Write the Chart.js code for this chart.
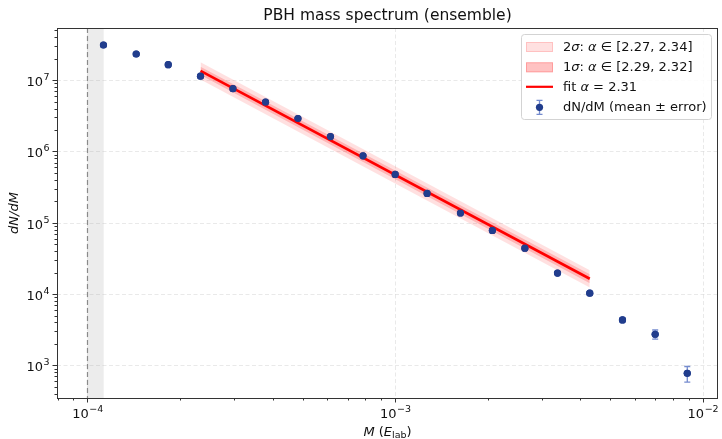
<!DOCTYPE html>
<html lang="en">
<head>
<meta charset="UTF-8">
<title>PBH mass spectrum (ensemble)</title>
<script src="https://cdn.jsdelivr.net/npm/chart.js"></script>
<style>
  body { margin: 0; background: #fff; }
  .wrap { width: 722px; height: 439px; }
</style>
</head>
<body>
<div class="wrap"><canvas id="spec"></canvas></div>
<script>
// binned spectrum
const massBins = [1.127e-4, 1.44e-4, 1.83e-4, 2.33e-4, 2.97e-4, 3.79e-4, 4.83e-4, 6.16e-4, 7.86e-4, 1.0e-3,
                  1.27e-3, 1.63e-3, 2.07e-3, 2.64e-3, 3.37e-3, 4.29e-3, 5.48e-3, 7.0e-3, 8.9e-3];
const dNdM = [3.12e7, 2.33e7, 1.65e7, 1.14e7, 7.6e6, 4.92e6, 2.9e6, 1.62e6, 8.7e5, 4.76e5,
              2.58e5, 1.37e5, 7.8e4, 4.4e4, 1.97e4, 1.03e4, 4.33e3, 2.73e3, 773];
const dNdMErr = [4e5, 3e5, 2e5, 1.5e5, 1e5, 6e4, 4e4, 2.5e4, 1.3e4, 7e3,
                 4e3, 2.5e3, 1.5e3, 1e3, 600, 400, 300, 400, 190];

// power-law fit + bands (straight in log-log, so just the end points)
const fitM = [2.33e-4, 4.29e-3];
const fitLine = [1.35e7, 1.64e4];
const band1Hi = [1.55e7, 1.89e4];
const band1Lo = [1.18e7, 1.42e4];
const band2Hi = [1.78e7, 2.16e4];
const band2Lo = [1.02e7, 1.24e4];

// shaded cut region and its left edge
const cutM = [1e-4, 1.129e-4];

const xRange = [7.96e-5, 1.12e-2];
const yRange = [348, 5.4e7];
const xTickExp = [-4, -3, -2];
const yTickExp = [3, 4, 5, 6, 7];

const titleText = 'PBH mass spectrum (ensemble)';
const legendItems = [
    [{t: '2'}, {t: 'σ', it: true}, {t: ': '}, {t: 'α', it: true}, {t: ' ∈ [2.27, 2.34]'}],
    [{t: '1'}, {t: 'σ', it: true}, {t: ': '}, {t: 'α', it: true}, {t: ' ∈ [2.29, 2.32]'}],
    [{t: 'fit '}, {t: 'α', it: true}, {t: ' = 2.31'}],
    [{t: 'dN/dM (mean ± error)'}]
];

const FONT = "'DejaVu Sans', sans-serif";
const BAND2 = 'rgba(255, 0, 0, 0.12)';
const BAND1 = 'rgba(255, 0, 0, 0.20)';
const PT = '#213d8d';
const ERR = 'rgba(70, 100, 190, 0.75)';

function pts(xs, ys) {
    return xs.map((x, i) => ({x: x, y: ys[i]}));
}

function richText(ctx, parts, x, y, size) {
    let cx = x;
    parts.forEach(p => {
        ctx.font = (p.it ? 'italic ' : '') + size + 'px ' + FONT;
        ctx.fillText(p.t, cx, y);
        cx += ctx.measureText(p.t).width;
    });
    return cx;
}

// "10" with a raised exponent; returns widths so callers can align
function powerLabel(ctx, exp, x, y, align) {
    const base = '10', sup = String(exp).replace('-', '−');
    ctx.font = '13px ' + FONT;
    const wb = ctx.measureText(base).width;
    ctx.font = '9.5px ' + FONT;
    const ws = ctx.measureText(sup).width;
    let x0 = x;
    if (align === 'center') x0 = x - (wb + ws) / 2;
    if (align === 'right') x0 = x - (wb + ws);
    ctx.textAlign = 'left';
    ctx.font = '13px ' + FONT;
    ctx.fillText(base, x0, y);
    ctx.font = '9.5px ' + FONT;
    ctx.fillText(sup, x0 + wb + 0.5, y - 6);
}

// log positions 1..9 x 10^n inside a range
function logTicks(min, max) {
    const out = [];
    for (let e = Math.floor(Math.log10(min)); e <= Math.ceil(Math.log10(max)); e++) {
        for (let k = 1; k <= 9; k++) {
            const v = k * Math.pow(10, e);
            if (v >= min && v <= max) out.push({v: v, major: k === 1});
        }
    }
    return out;
}

const decorPlugin = {
    id: 'decor',
    beforeDatasetsDraw(chart) {
        const ctx = chart.ctx, a = chart.chartArea;
        const xs = chart.scales.x, ys = chart.scales.y;
        ctx.save();
        ctx.beginPath();
        ctx.rect(a.left, a.top, a.right - a.left, a.bottom - a.top);
        ctx.clip();

        // grid
        ctx.strokeStyle = 'rgba(0, 0, 0, 0.11)';
        ctx.lineWidth = 0.8;
        ctx.setLineDash([4, 2.5]);
        xTickExp.forEach(e => {
            const px = Math.round(xs.getPixelForValue(Math.pow(10, e))) + 0.5;
            ctx.beginPath(); ctx.moveTo(px, a.top); ctx.lineTo(px, a.bottom); ctx.stroke();
        });
        yTickExp.forEach(e => {
            const py = Math.round(ys.getPixelForValue(Math.pow(10, e))) + 0.5;
            ctx.beginPath(); ctx.moveTo(a.left, py); ctx.lineTo(a.right, py); ctx.stroke();
        });

        // cut region
        const c0 = xs.getPixelForValue(cutM[0]), c1 = xs.getPixelForValue(cutM[1]);
        ctx.setLineDash([]);
        ctx.fillStyle = 'rgba(128, 128, 128, 0.15)';
        ctx.fillRect(c0, a.top, c1 - c0, a.bottom - a.top);
        ctx.strokeStyle = '#8a8a8a';
        ctx.lineWidth = 1.2;
        ctx.setLineDash([5, 3]);
        ctx.beginPath(); ctx.moveTo(c0, a.top); ctx.lineTo(c0, a.bottom); ctx.stroke();
        ctx.restore();
    },
    afterDatasetsDraw(chart) {
        const ctx = chart.ctx;
        const xs = chart.scales.x, ys = chart.scales.y;
        // error bars
        ctx.save();
        ctx.strokeStyle = ERR;
        ctx.lineWidth = 1.3;
        massBins.forEach((m, i) => {
            const px = xs.getPixelForValue(m);
            const hi = ys.getPixelForValue(dNdM[i] + dNdMErr[i]);
            const lo = ys.getPixelForValue(dNdM[i] - dNdMErr[i]);
            ctx.beginPath();
            ctx.moveTo(px, hi); ctx.lineTo(px, lo);
            ctx.moveTo(px - 3, hi); ctx.lineTo(px + 3, hi);
            ctx.moveTo(px - 3, lo); ctx.lineTo(px + 3, lo);
            ctx.stroke();
        });
        // markers back on top of the bars
        ctx.fillStyle = PT;
        massBins.forEach((m, i) => {
            ctx.beginPath();
            ctx.arc(xs.getPixelForValue(m), ys.getPixelForValue(dNdM[i]), 3.6, 0, Math.PI * 2);
            ctx.fill();
        });
        ctx.restore();
    },
    afterDraw(chart) {
        const ctx = chart.ctx, a = chart.chartArea;
        const xs = chart.scales.x, ys = chart.scales.y;
        ctx.save();

        // frame
        ctx.strokeStyle = '#333';
        ctx.lineWidth = 1;
        ctx.strokeRect(Math.round(a.left) + 0.5, Math.round(a.top) + 0.5,
                       Math.round(a.right - a.left) - 1, Math.round(a.bottom - a.top));

        // tick marks
        ctx.beginPath();
        logTicks(xRange[0], xRange[1]).forEach(t => {
            const px = Math.round(xs.getPixelForValue(t.v)) + 0.5;
            ctx.moveTo(px, a.bottom); ctx.lineTo(px, a.bottom + (t.major ? 4.5 : 2.5));
        });
        logTicks(yRange[0], yRange[1]).forEach(t => {
            const py = Math.round(ys.getPixelForValue(t.v)) + 0.5;
            ctx.moveTo(a.left, py); ctx.lineTo(a.left - (t.major ? 4.5 : 2.5), py);
        });
        ctx.stroke();

        // tick labels
        ctx.fillStyle = '#111';
        ctx.textBaseline = 'alphabetic';
        xTickExp.forEach(e => powerLabel(ctx, e, xs.getPixelForValue(Math.pow(10, e)), a.bottom + 20, 'center'));
        yTickExp.forEach(e => powerLabel(ctx, e, a.left - 8, ys.getPixelForValue(Math.pow(10, e)) + 6, 'right'));

        // title and axis labels
        const cx = (a.left + a.right) / 2;
        ctx.textAlign = 'center';
        ctx.font = '15.5px ' + FONT;
        ctx.fillText(titleText, cx, 19.5);

        ctx.textAlign = 'left';
        const xlParts = [{t: 'M', it: true}, {t: ' ('}, {t: 'E', it: true}];
        let w = 0;
        xlParts.forEach(p => { ctx.font = (p.it ? 'italic ' : '') + '13px ' + FONT; w += ctx.measureText(p.t).width; });
        ctx.font = '9.5px ' + FONT; const wSub = ctx.measureText('lab').width;
        ctx.font = '13px ' + FONT; w += wSub + ctx.measureText(')').width;
        let x0 = cx - w / 2;
        const by = 435.5;
        x0 = richText(ctx, xlParts, x0, by, 13);
        ctx.font = '9.5px ' + FONT;
        ctx.fillText('lab', x0, by + 2.5);
        x0 += wSub;
        ctx.font = '13px ' + FONT;
        ctx.fillText(')', x0, by);

        ctx.save();
        ctx.translate(17.5, (a.top + a.bottom) / 2);
        ctx.rotate(-Math.PI / 2);
        ctx.textAlign = 'center';
        ctx.font = 'italic 13px ' + FONT;
        ctx.fillText('dN/dM', 0, 0);
        ctx.restore();

        // legend
        const bw = 190, bh = 85;
        const bx = a.right - 7 - bw, by0 = a.top + 6;
        ctx.fillStyle = 'rgba(255, 255, 255, 0.85)';
        ctx.strokeStyle = '#d3d3d3';
        ctx.lineWidth = 1;
        ctx.beginPath();
        ctx.roundRect(bx + 0.5, by0 + 0.5, bw, bh, 3);
        ctx.fill();
        ctx.stroke();

        const rows = [13, 33.3, 52.8, 73.3];
        const px0 = bx + 5, pw = 27;
        // 2 sigma patch
        ctx.fillStyle = BAND2; ctx.strokeStyle = 'rgba(255, 0, 0, 0.14)';
        ctx.fillRect(px0, by0 + rows[0] - 5, pw, 10);
        ctx.strokeRect(px0 + 0.5, by0 + rows[0] - 4.5, pw - 1, 9);
        // 1 sigma patch
        ctx.fillStyle = 'rgba(255, 0, 0, 0.24)'; ctx.strokeStyle = 'rgba(255, 0, 0, 0.2)';
        ctx.fillRect(px0, by0 + rows[1] - 5, pw, 10);
        ctx.strokeRect(px0 + 0.5, by0 + rows[1] - 4.5, pw - 1, 9);
        // fit line
        ctx.strokeStyle = '#ff0000'; ctx.lineWidth = 2.2;
        ctx.beginPath(); ctx.moveTo(px0, by0 + rows[2]); ctx.lineTo(px0 + pw, by0 + rows[2]); ctx.stroke();
        // errorbar marker
        const mx = px0 + pw / 2, my = by0 + rows[3];
        ctx.strokeStyle = ERR; ctx.lineWidth = 1.3;
        ctx.beginPath();
        ctx.moveTo(mx, my - 7); ctx.lineTo(mx, my + 7);
        ctx.moveTo(mx - 3, my - 7); ctx.lineTo(mx + 3, my - 7);
        ctx.moveTo(mx - 3, my + 7); ctx.lineTo(mx + 3, my + 7);
        ctx.stroke();
        ctx.fillStyle = PT;
        ctx.beginPath(); ctx.arc(mx, my, 3.6, 0, Math.PI * 2); ctx.fill();

        ctx.fillStyle = '#111';
        ctx.textBaseline = 'middle';
        ctx.textAlign = 'left';
        legendItems.forEach((parts, i) => richText(ctx, parts, bx + 42, by0 + rows[i] + 0.5, 13));
        ctx.restore();
    }
};

const lineDs = (label, data, extra) => Object.assign({
    label: label,
    data: data,
    showLine: true,
    pointRadius: 0,
    borderWidth: 0,
    borderColor: 'transparent'
}, extra);

new Chart(document.getElementById('spec'), {
    type: 'scatter',
    data: {
        datasets: [
            lineDs('2σ hi', pts(fitM, band2Hi), {fill: '+1', backgroundColor: BAND2}),
            lineDs('2σ lo', pts(fitM, band2Lo), {}),
            lineDs('1σ hi', pts(fitM, band1Hi), {fill: '+1', backgroundColor: BAND1}),
            lineDs('1σ lo', pts(fitM, band1Lo), {}),
            lineDs('fit', pts(fitM, fitLine), {borderColor: '#ff0000', borderWidth: 2.6}),
            {
                label: 'dN/dM',
                data: pts(massBins, dNdM),
                pointRadius: 3.6,
                pointBackgroundColor: PT,
                pointBorderWidth: 0
            }
        ]
    },
    options: {
        responsive: true,
        maintainAspectRatio: false,
        animation: false,
        layout: {padding: {top: 28, right: 1, left: 0, bottom: 0}},
        plugins: {
            legend: {display: false},
            tooltip: {enabled: false}
        },
        scales: {
            x: {
                type: 'logarithmic',
                min: xRange[0],
                max: xRange[1],
                grid: {display: false},
                border: {display: false},
                ticks: {display: false},
                afterFit: s => { s.height = 41; }
            },
            y: {
                type: 'logarithmic',
                min: yRange[0],
                max: yRange[1],
                grid: {display: false},
                border: {display: false},
                ticks: {display: false},
                afterFit: s => { s.width = 57; }
            }
        }
    },
    plugins: [decorPlugin]
});
</script>
</body>
</html>
